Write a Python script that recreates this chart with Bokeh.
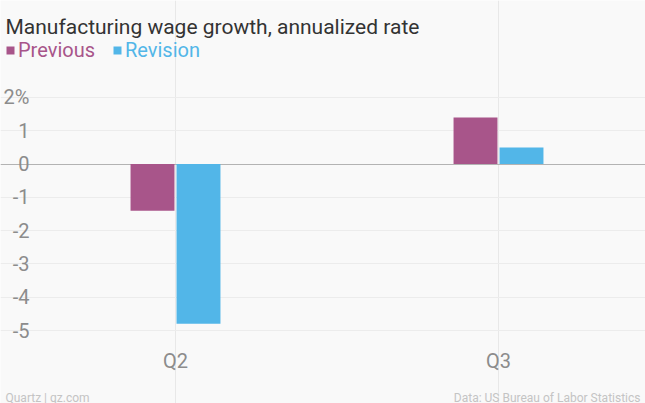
from bokeh.plotting import figure
from bokeh.models import (Range1d, FixedTicker, Label, Legend, LegendItem,
                          ColumnDataSource, Grid)
from bokeh.embed import file_html
from bokeh.resources import INLINE

# ---- data ----
quarters = ["Q2", "Q3"]
previous = [-1.4, 1.4]
revision = [-4.8, 0.5]
y_ticks = [-5, -4, -3, -2, -1, 0, 1, 2]
y_tick_labels = ["-5", "-4", "-3", "-2", "-1", "0", "1", "2%"]
title_text = "Manufacturing wage growth, annualized rate"
series_names = ["Previous", "Revision"]
source_left = "Quartz | qz.com"
source_right = "Data: US Bureau of Labor Statistics"

# ---- style ----
PURPLE = "#a8558a"
BLUE = "#52b6e8"
BG = "#f9f9f9"
FONT = "Roboto"
TICK_COLOR = "#8c8c8c"

centers = [i + 0.5 for i in range(len(quarters))]
bar_w = 0.136
off = 0.0712
src = ColumnDataSource(dict(
    xp=[c - off for c in centers],
    xr=[c + off for c in centers],
    prev=previous, rev=revision))

W, H = 645, 403
p = figure(width=W, height=H, output_backend="svg", toolbar_location=None,
           x_range=Range1d(-0.0418, 1.9551), y_range=Range1d(-7.193, 4.914),
           min_border=0)
p.background_fill_color = BG
p.border_fill_color = BG
p.outline_line_color = None

r1 = p.vbar(x="xp", top="prev", width=bar_w, source=src, fill_color=PURPLE,
            line_color=None)
r2 = p.vbar(x="xr", top="rev", width=bar_w, source=src, fill_color=BLUE,
            line_color=None)

# x axis (labels drawn inside the frame)
p.xaxis.ticker = FixedTicker(ticks=centers)
p.xaxis.major_label_overrides = {c: q for c, q in zip(centers, quarters)}
p.xaxis.axis_line_color = None
p.xaxis.major_tick_in = 0
p.xaxis.major_tick_out = 0
p.xaxis.minor_tick_line_color = None
p.xaxis.major_tick_line_color = None
p.xaxis.major_label_standoff = -55
p.xaxis.major_label_text_font = FONT
p.xaxis.major_label_text_font_size = "20px"
p.xaxis.major_label_text_color = TICK_COLOR

# y axis (labels drawn inside the frame)
p.yaxis.ticker = FixedTicker(ticks=y_ticks)
p.yaxis.major_label_overrides = {t: l for t, l in zip(y_ticks, y_tick_labels)}
p.yaxis.axis_line_color = None
p.yaxis.major_tick_in = 0
p.yaxis.major_tick_out = 0
p.yaxis.major_tick_line_color = None
p.yaxis.minor_tick_line_color = None
p.yaxis.major_label_standoff = -29
p.yaxis.major_label_text_font = FONT
p.yaxis.major_label_text_font_size = "20px"
p.yaxis.major_label_text_color = TICK_COLOR

# grids
p.ygrid.grid_line_color = "#ececec"
p.ygrid.bounds = (0.027, 1.94)
p.xgrid.grid_line_color = "#e8e8e8"
p.xgrid.bounds = (-5.51, -5.15)
p.add_layout(Grid(dimension=1, ticker=FixedTicker(ticks=[0]),
                  bounds=(0.027, 1.94), grid_line_color="#b3b3b3"))

# title
p.add_layout(Label(x=5, y=377, x_units="screen", y_units="screen",
                   text=title_text, text_font=FONT, text_font_size="21px",
                   text_color="#333333", text_baseline="alphabetic"))

# legends
for name, r, col, lx in [(series_names[0], r1, PURPLE, 5),
                         (series_names[1], r2, BLUE, 112)]:
    lg = Legend(items=[LegendItem(label=name, renderers=[r])],
                location=(lx, 341), orientation="horizontal",
                glyph_width=10, glyph_height=10, label_standoff=3,
                padding=0, margin=0, spacing=0, label_height=24,
                background_fill_alpha=0, border_line_color=None,
                label_text_font=FONT, label_text_font_size="20px",
                label_text_color=col)
    p.add_layout(lg)

# footer
p.add_layout(Label(x=5, y=6, x_units="screen", y_units="screen",
                   text=source_left, text_font=FONT, text_font_size="12px",
                   text_color="#c4c4c4", text_baseline="alphabetic"))
p.add_layout(Label(x=640, y=6, x_units="screen", y_units="screen",
                   text=source_right, text_font=FONT, text_font_size="12px",
                   text_color="#c4c4c4", text_baseline="alphabetic",
                   text_align="right"))

html = file_html(p, INLINE)
open("out.html", "w").write(html)
